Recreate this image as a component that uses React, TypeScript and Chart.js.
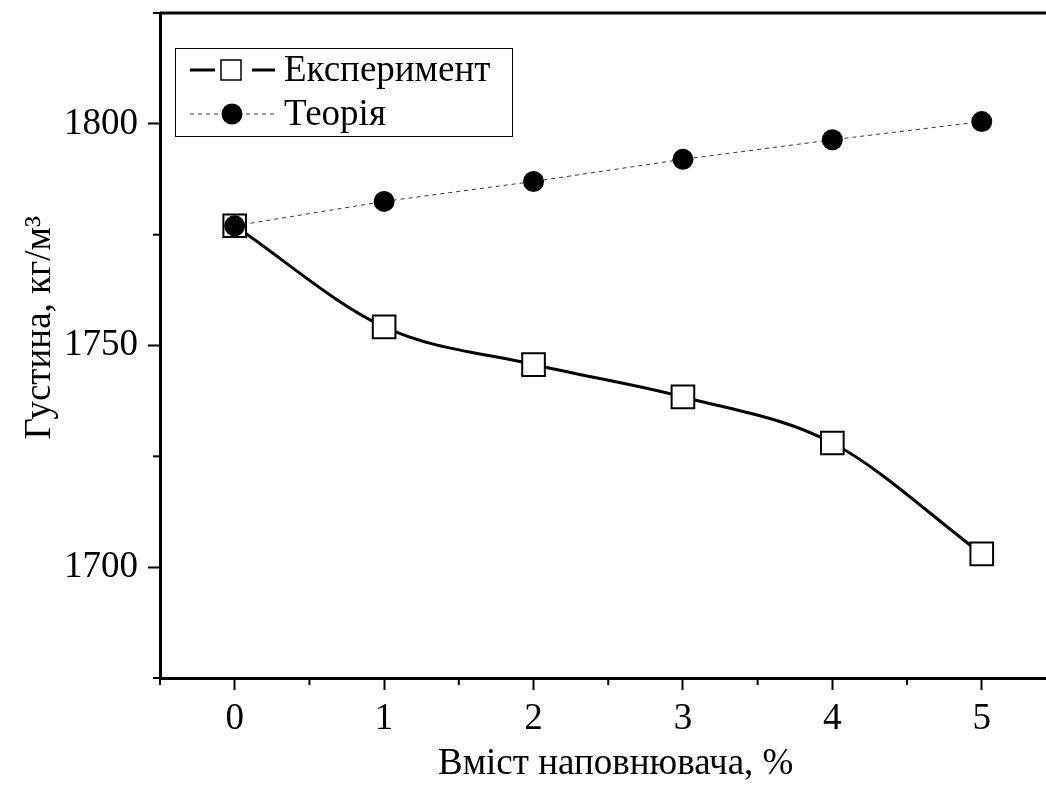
import React, { useEffect, useRef } from 'react';
import { Chart, registerables } from 'chart.js';

Chart.register(...registerables);

const xValues = [0, 1, 2, 3, 4, 5];
const experimentValues = [1777, 1754.2, 1745.7, 1738.4, 1728, 1703];
const theoryValues = [1777, 1782.5, 1787, 1792, 1796.4, 1800.5];
const seriesLabels = ['Експеримент', 'Теорія'];
const xTitle = 'Вміст наповнювача, %';
const yTitle = 'Густина, кг/м³';
const xMajorTicks = [0, 1, 2, 3, 4, 5];
const xMinorTicks = [-0.5, 0.5, 1.5, 2.5, 3.5, 4.5];
const yMajorTicks = [1700, 1750, 1800];
const yMinorTicks = [1675, 1725, 1775, 1825];

const FONT = "'Liberation Serif', 'Times New Roman', serif";
const FS = 37;

export default function App() {
  const ref = useRef<HTMLCanvasElement>(null);

  useEffect(() => {
    document.body.style.margin = '0';
    const canvas = ref.current!;

    const framePlugin = {
      id: 'frame',
      afterDraw(chart: any) {
        const { ctx, chartArea } = chart;
        const xs = chart.scales.x;
        const ys = chart.scales.y;
        ctx.save();
        ctx.strokeStyle = '#000';
        ctx.lineCap = 'butt';
        // top axis line
        ctx.lineWidth = 3;
        ctx.beginPath();
        ctx.moveTo(chartArea.left, chartArea.top);
        ctx.lineTo(chartArea.right + 2, chartArea.top);
        ctx.stroke();
        // minor ticks
        ctx.lineWidth = 2;
        for (const v of yMinorTicks) {
          const py = ys.getPixelForValue(v);
          ctx.beginPath();
          ctx.moveTo(chartArea.left, py);
          ctx.lineTo(chartArea.left - 7, py);
          ctx.stroke();
        }
        for (const v of xMinorTicks) {
          if (v > xs.max) continue;
          const px = xs.getPixelForValue(v);
          ctx.beginPath();
          ctx.moveTo(px, chartArea.bottom);
          ctx.lineTo(px, chartArea.bottom + 7);
          ctx.stroke();
        }

        // axis titles
        ctx.fillStyle = '#000';
        ctx.font = `${FS}px ${FONT}`;
        ctx.textAlign = 'center';
        ctx.textBaseline = 'middle';
        ctx.fillText(xTitle, xs.getPixelForValue(2.55), 764);
        ctx.save();
        ctx.translate(40, ys.getPixelForValue(1754));
        ctx.rotate(-Math.PI / 2);
        ctx.fillText(yTitle, 0, 0);
        ctx.restore();

        // legend
        const bx = chartArea.left + 15;
        const by = chartArea.top + 35;
        const bw = 337;
        const bh = 88;
        ctx.lineWidth = 1;
        ctx.strokeStyle = '#000';
        ctx.strokeRect(bx + 0.5, by + 0.5, bw, bh);

        const sx0 = bx + 15;
        const sx1 = bx + 100;
        const mx = bx + 56;
        const textX = bx + 109;
        const r1 = by + 22;
        const r2 = by + 66;

        // row 1: experiment
        ctx.lineWidth = 3;
        ctx.beginPath();
        ctx.moveTo(sx0, r1);
        ctx.lineTo(mx - 16, r1);
        ctx.moveTo(mx + 21, r1);
        ctx.lineTo(sx1, r1);
        ctx.stroke();
        ctx.fillStyle = '#fff';
        ctx.lineWidth = 1.5;
        ctx.fillRect(mx - 10, r1 - 10, 20, 20);
        ctx.strokeRect(mx - 10, r1 - 10, 20, 20);

        // row 2: theory
        ctx.strokeStyle = '#333';
        ctx.lineWidth = 1;
        ctx.setLineDash([4, 4]);
        ctx.beginPath();
        ctx.moveTo(sx0, r2);
        ctx.lineTo(sx1, r2);
        ctx.stroke();
        ctx.setLineDash([]);
        ctx.fillStyle = '#000';
        ctx.beginPath();
        ctx.arc(mx + 1, r2, 10.5, 0, Math.PI * 2);
        ctx.fill();

        ctx.fillStyle = '#000';
        ctx.font = `${FS}px ${FONT}`;
        ctx.textAlign = 'left';
        ctx.textBaseline = 'middle';
        ctx.fillText(seriesLabels[0], textX, r1 + 1);
        ctx.fillText(seriesLabels[1], textX, r2 + 1);
        ctx.restore();
      },
    };

    const chart = new Chart(canvas, {
      type: 'line',
      data: {
        datasets: [
          {
            label: seriesLabels[1],
            data: xValues.map((x, i) => ({ x, y: theoryValues[i] })),
            borderColor: '#333',
            borderWidth: 1,
            borderDash: [4, 4],
            tension: 0,
            pointStyle: 'circle',
            pointRadius: 10.5,
            pointBackgroundColor: '#000',
            pointBorderColor: '#000',
            pointBorderWidth: 0,
            order: 1,
          },
          {
            label: seriesLabels[0],
            data: xValues.map((x, i) => ({ x, y: experimentValues[i] })),
            borderColor: '#000',
            borderWidth: 3,
            cubicInterpolationMode: 'monotone',
            pointStyle: 'rect',
            pointRadius: 16,
            pointBackgroundColor: '#fff',
            pointBorderColor: '#000',
            pointBorderWidth: 2,
            order: 2,
          },
        ],
      },
      options: {
        responsive: false,
        animation: false,
        events: [],
        layout: { autoPadding: false, padding: { left: 0, right: 0, top: 13, bottom: 0 } },
        plugins: {
          legend: { display: false },
          tooltip: { enabled: false },
        },
        scales: {
          x: {
            type: 'linear',
            min: -0.5,
            max: 5.43,
            afterBuildTicks: (s: any) => {
              s.ticks = xMajorTicks.map((v) => ({ value: v }));
            },
            afterFit: (s: any) => {
              s.height = 107;
              s.paddingLeft = 0;
              s.paddingRight = 0;
            },
            border: { display: true, color: '#000', width: 3 },
            grid: {
              drawOnChartArea: false,
              drawTicks: true,
              tickLength: 12,
              tickWidth: 2,
              tickColor: '#000',
            },
            ticks: {
              autoSkip: false,
              maxRotation: 0,
              padding: 7,
              color: '#000',
              font: { family: FONT, size: FS },
              callback: (v: any) => String(v),
            },
            title: { display: false },
          },
          y: {
            type: 'linear',
            min: 1675,
            max: 1825,
            afterBuildTicks: (s: any) => {
              s.ticks = yMajorTicks.map((v) => ({ value: v }));
            },
            afterFit: (s: any) => {
              s.width = 160;
              s.paddingTop = 0;
              s.paddingBottom = 0;
            },
            border: { display: true, color: '#000', width: 3 },
            grid: {
              drawOnChartArea: false,
              drawTicks: true,
              tickLength: 12,
              tickWidth: 2,
              tickColor: '#000',
            },
            ticks: {
              autoSkip: false,
              padding: 10,
              color: '#000',
              font: { family: FONT, size: FS },
              callback: (v: any) => String(v),
            },
            title: { display: false },
          },
        },
      },
      plugins: [framePlugin],
    });

    return () => chart.destroy();
  }, []);

  return <canvas ref={ref} width={1046} height={785} style={{ display: 'block' }} />;
}
